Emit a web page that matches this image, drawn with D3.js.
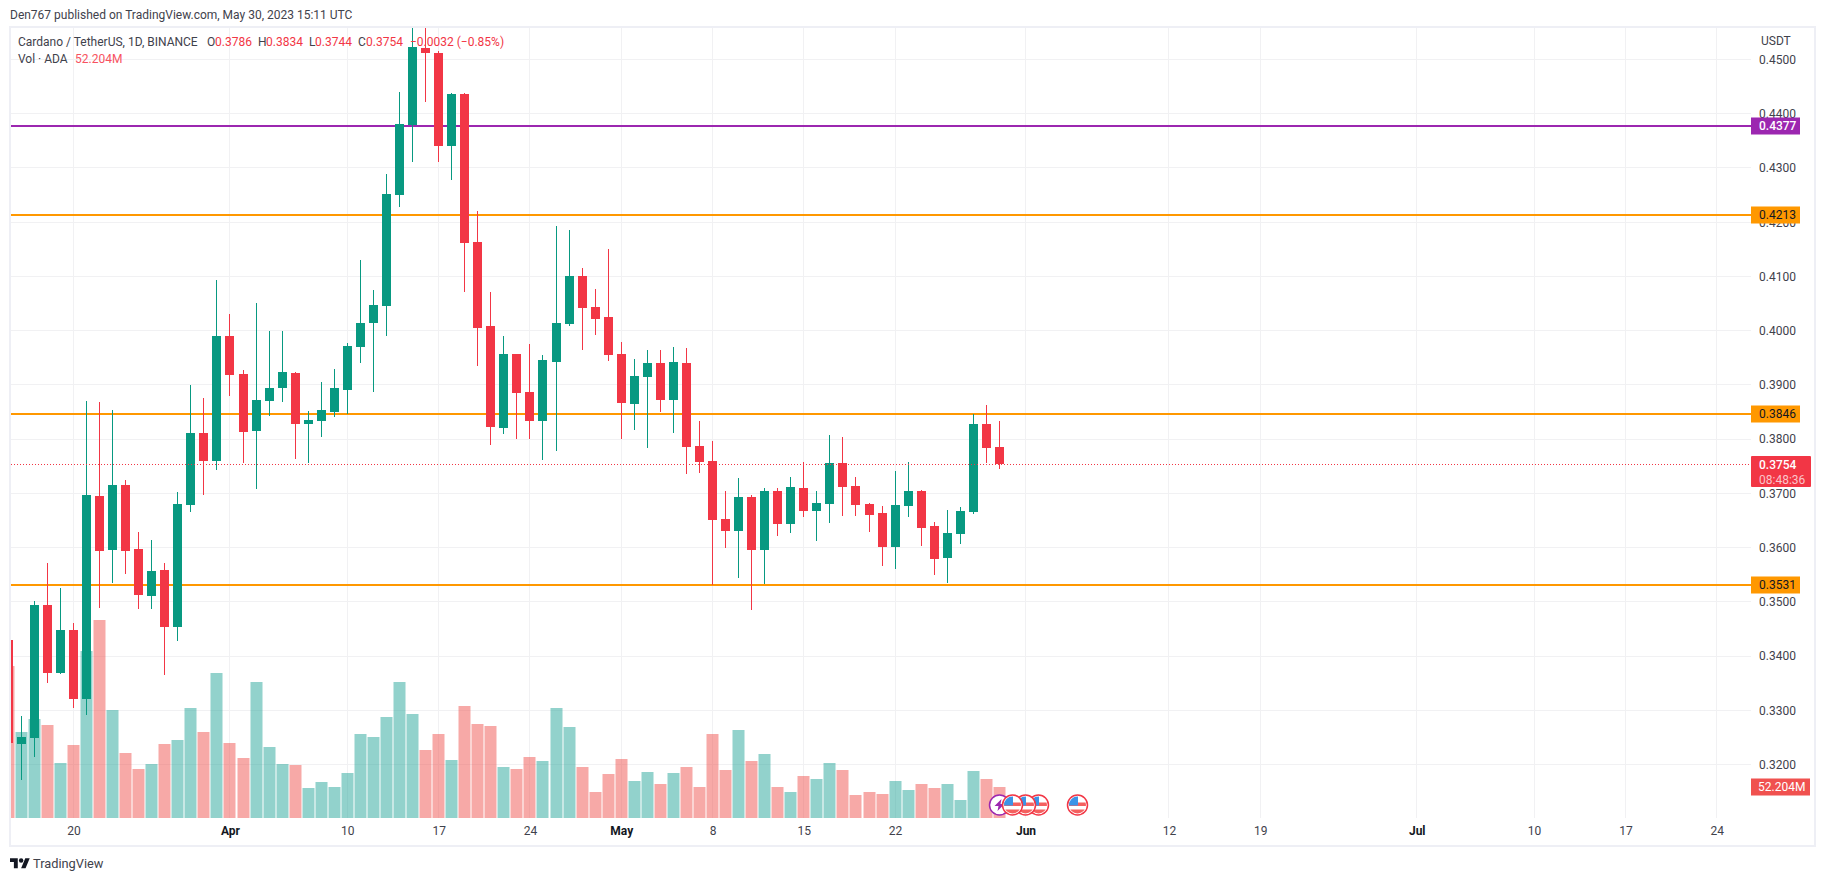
<!DOCTYPE html>
<html>

<head>
    <meta charset="utf-8">
    <title>ADA/USDT</title>
    <style>
        body { margin: 0; background: #fff; }
        text { font-family: Roboto, "Liberation Sans", sans-serif; }
    </style>
</head>

<body>
    <script src="https://cdn.jsdelivr.net/npm/d3@7/dist/d3.min.js"></script>
    <script>
    // daily candles, 15 Mar to 30 May 2023
    let days = d3.utcDay.range(new Date(Date.UTC(2023, 2, 15)), new Date(Date.UTC(2023, 4, 31)));

    let opens = [0.3430, 0.3238, 0.3248, 0.3494, 0.3369, 0.3448, 0.3320, 0.3695, 0.3596, 0.3716, 0.3597, 0.3511, 0.3559, 0.3454, 0.3679, 0.3811, 0.3760,
        0.3990, 0.3920, 0.3815, 0.3870, 0.3894, 0.3922, 0.3828, 0.3833, 0.3850, 0.3891, 0.3970, 0.4014, 0.4045, 0.4250, 0.4379, 0.4521, 0.4512, 0.4340, 0.4436, 0.4163, 0.4009, 0.3821, 0.3957, 0.3887, 0.3833, 0.3942, 0.4012, 0.4101, 0.4043, 0.4025,
        0.3957, 0.3865, 0.3915, 0.3940, 0.3872, 0.3940, 0.3788, 0.3760, 0.3653, 0.3631, 0.3693, 0.3596, 0.3705, 0.3644, 0.3710, 0.3668, 0.3681, 0.3756, 0.3714, 0.3681, 0.3664, 0.3601, 0.3677, 0.3705, 0.3640, 0.3581, 0.3625, 0.3666, 0.3828, 0.3786];
    let highs = [0.3440, 0.3290, 0.3502, 0.3572, 0.3526, 0.3461, 0.3870, 0.3869, 0.3854, 0.3725, 0.3629, 0.3614, 0.3572, 0.3703, 0.3900, 0.3876, 0.4093,
        0.4031, 0.3928, 0.4051, 0.3999, 0.3999, 0.3924, 0.3852, 0.3905, 0.3929, 0.3977, 0.4130, 0.4075, 0.4289, 0.4440, 0.4565, 0.4560, 0.4515, 0.4438, 0.4438, 0.4220, 0.4071, 0.3990, 0.3957, 0.3975, 0.3955, 0.4193, 0.4185, 0.4116, 0.4077, 0.4150,
        0.3979, 0.3948, 0.3964, 0.3964, 0.3970, 0.3968, 0.3833, 0.3797, 0.3705, 0.3728, 0.3697, 0.3710, 0.3710, 0.3730, 0.3758, 0.3705, 0.3808, 0.3804, 0.3730, 0.3682, 0.3677, 0.3741, 0.3758, 0.3706, 0.3647, 0.3670, 0.3675, 0.3846, 0.3863, 0.3834];
    let lows = [0.3220, 0.3172, 0.3213, 0.3351, 0.3367, 0.3305, 0.3292, 0.3489, 0.3534, 0.3552, 0.3487, 0.3487, 0.3365, 0.3428, 0.3665, 0.3697, 0.3743,
        0.3880, 0.3756, 0.3708, 0.3843, 0.3869, 0.3763, 0.3756, 0.3804, 0.3841, 0.3846, 0.3940, 0.3887, 0.3990, 0.4228, 0.4311, 0.4421, 0.4311, 0.4278, 0.4071, 0.3935, 0.3789, 0.3810, 0.3800, 0.3800, 0.3762, 0.3778, 0.4009, 0.3964, 0.3992, 0.3944,
        0.3800, 0.3817, 0.3784, 0.3850, 0.3811, 0.3736, 0.3738, 0.3531, 0.3600, 0.3544, 0.3485, 0.3533, 0.3622, 0.3627, 0.3657, 0.3612, 0.3646, 0.3658, 0.3658, 0.3629, 0.3566, 0.3561, 0.3657, 0.3603, 0.3550, 0.3535, 0.3607, 0.3662, 0.3756, 0.3744];
    let closes = [0.3240, 0.3250, 0.3494, 0.3369, 0.3448, 0.3320, 0.3697, 0.3594, 0.3716, 0.3594, 0.3513, 0.3557, 0.3454, 0.3681, 0.3811, 0.3760, 0.3990,
        0.3918, 0.3813, 0.3872, 0.3894, 0.3924, 0.3828, 0.3835, 0.3854, 0.3894, 0.3972, 0.4014, 0.4047, 0.4252, 0.4381, 0.4523, 0.4512, 0.4340, 0.4436, 0.4161, 0.4005, 0.3822, 0.3957, 0.3885, 0.3833, 0.3946, 0.4014, 0.4101, 0.4042, 0.4021, 0.3955,
        0.3867, 0.3916, 0.3940, 0.3872, 0.3942, 0.3786, 0.3758, 0.3651, 0.3631, 0.3693, 0.3596, 0.3705, 0.3644, 0.3712, 0.3668, 0.3682, 0.3756, 0.3712, 0.3679, 0.3660, 0.3601, 0.3679, 0.3705, 0.3636, 0.3579, 0.3627, 0.3668, 0.3828, 0.3784, 0.3754];
    // volume in millions of ADA
    let volumes = [256, 145, 167, 157, 93, 123, 281, 333, 182, 109, 83, 91, 125, 131, 185, 145, 244,
        126, 101, 229, 120, 91, 89, 51, 61, 52, 76, 141, 136, 170, 229, 175, 115, 141, 98, 189, 159, 155, 86, 82, 102, 96, 185, 153, 86, 43, 74,
        100, 63, 78, 57, 76, 86, 53, 141, 80, 149, 96, 108, 53, 43, 71, 65, 92, 80, 39, 43, 40, 62, 47, 57, 51, 57, 30, 79, 66, 52.204];

    let priceTicks = [0.45, 0.44, 0.43, 0.42, 0.41, 0.40, 0.39, 0.38, 0.37, 0.36, 0.35, 0.34, 0.33, 0.32];
    let timeTicks = ["2023-03-20", "2023-04-01", "2023-04-10", "2023-04-17", "2023-04-24", "2023-05-01", "2023-05-08", "2023-05-15", "2023-05-22",
        "2023-06-01", "2023-06-12", "2023-06-19", "2023-07-01", "2023-07-10", "2023-07-17", "2023-07-24"];
    let timeLabels = ["20", "Apr", "10", "17", "24", "May", "8", "15", "22", "Jun", "12", "19", "Jul", "10", "17", "24"];
    let monthLabels = ["Apr", "May", "Jun", "Jul"];

    let levelPrices = [0.4377, 0.4213, 0.3846, 0.3531];
    let levelColors = ["#9c27b0", "#ff9800", "#ff9800", "#ff9800"];
    let levelTextColors = ["#fff", "#131722", "#131722", "#131722"];

    let lastPrice = 0.3754;
    let lastVolume = "52.204M";
    let countdown = "08:48:36";

    // lightning is the first one, the others are the US flags
    let lightningDay = "2023-05-30";
    let flagDays = ["2023-06-05", "2023-06-02", "2023-06-01", "2023-05-31"];

    let up = "#089981", down = "#f23645";

    let width = 1825, height = 881;
    let pane = { left: 11, right: 1751, top: 28, bottom: 818 };

    let svg = d3.select('body').append('svg').attr('width', width).attr('height', height).style('display', 'block');

    let xScale = d3.scaleUtc()
        .domain([new Date("2023-03-20"), new Date("2023-06-01")])
        .range([73.5, 1025.5]);
    let yScale = d3.scaleLinear()
        .domain([0.32, 0.45])
        .range([764.5, 59.5]);
    let volScale = d3.scaleLinear()
        .domain([0, 52.204])
        .range([pane.bottom, 787]);

    // snap to the pixel grid so lines stay sharp
    let cx = d => Math.floor(xScale(d)) + 0.5;
    let isUp = i => closes[i] >= opens[i];

    svg.append("clipPath").attr("id", "pane").append("rect")
        .attr("x", pane.left).attr("y", pane.top)
        .attr("width", pane.right - pane.left).attr("height", pane.bottom - pane.top);

    // frame
    svg.append("rect")
        .attr("x", 10).attr("y", 27).attr("width", 1805).attr("height", 819)
        .attr("fill", "none").attr("stroke", "#eeeff5").attr("stroke-width", 2);

    // grid
    let grid = svg.append("g").attr("stroke", "#f1f1f3").attr("shape-rendering", "crispEdges");
    grid.selectAll(".h").data(priceTicks).enter().append("line")
        .attr("x1", pane.left).attr("x2", pane.right)
        .attr("y1", d => Math.floor(yScale(d)) + 0.5).attr("y2", d => Math.floor(yScale(d)) + 0.5);
    grid.selectAll(".v").data(timeTicks).enter().append("line")
        .attr("x1", d => cx(new Date(d))).attr("x2", d => cx(new Date(d)))
        .attr("y1", pane.top).attr("y2", pane.bottom);

    let chart = svg.append("g").attr("clip-path", "url(#pane)");

    // volume
    chart.selectAll(".vol").data(volumes).enter().append("rect")
        .attr("class", "vol")
        .attr("x", (d, i) => cx(days[i]) - 6)
        .attr("width", 12)
        .attr("y", d => Math.round(volScale(d)))
        .attr("height", d => pane.bottom - Math.round(volScale(d)))
        .attr("fill", (d, i) => isUp(i) ? "#26a69a" : "#ef5350")
        .attr("fill-opacity", 0.5);

    // horizontal levels
    chart.selectAll(".level").data(levelPrices).enter().append("line")
        .attr("class", "level")
        .attr("x1", pane.left).attr("x2", pane.right)
        .attr("y1", d => Math.round(yScale(d))).attr("y2", d => Math.round(yScale(d)))
        .attr("stroke", (d, i) => levelColors[i])
        .attr("stroke-width", 2);

    // candles
    chart.selectAll(".wick").data(days).enter().append("rect")
        .attr("class", "wick")
        .attr("x", d => cx(d) - 0.5)
        .attr("width", 1)
        .attr("y", (d, i) => Math.round(yScale(highs[i])))
        .attr("height", (d, i) => Math.round(yScale(lows[i])) - Math.round(yScale(highs[i])))
        .attr("fill", (d, i) => isUp(i) ? up : down);
    chart.selectAll(".body").data(days).enter().append("rect")
        .attr("class", "body")
        .attr("x", d => cx(d) - 4.5)
        .attr("width", 9)
        .attr("y", (d, i) => Math.round(yScale(Math.max(opens[i], closes[i]))))
        .attr("height", (d, i) => Math.round(yScale(Math.min(opens[i], closes[i]))) - Math.round(yScale(Math.max(opens[i], closes[i]))))
        .attr("fill", (d, i) => isUp(i) ? up : down);

    // last price line
    chart.append("line")
        .attr("x1", pane.left).attr("x2", pane.right)
        .attr("y1", Math.round(yScale(lastPrice)) + 0.5).attr("y2", Math.round(yScale(lastPrice)) + 0.5)
        .attr("stroke", down).attr("stroke-dasharray", "1 2");

    // event icons under the candles
    let iconY = 805;
    svg.append("clipPath").attr("id", "flag").append("circle").attr("r", 8.5);
    let lightning = svg.append("g").attr("transform", "translate(" + cx(new Date(lightningDay)) + "," + iconY + ")");
    lightning.append("circle").attr("r", 10).attr("fill", "#fff").attr("stroke", "#9c27b0").attr("stroke-width", 1.5);
    lightning.append("path").attr("d", "M2,-6 L-5,1 L-1,1 L-2,6 L5,-1 L1,-1 Z").attr("fill", "#9c27b0");

    let flags = svg.selectAll(".flag").data(flagDays).enter().append("g")
        .attr("class", "flag")
        .attr("transform", d => "translate(" + cx(new Date(d)) + "," + iconY + ")");
    flags.append("circle").attr("r", 10).attr("fill", "#fff").attr("stroke", down).attr("stroke-width", 1.5);
    let stripes = flags.append("g").attr("clip-path", "url(#flag)");
    stripes.append("rect").attr("x", -10).attr("y", -2.5).attr("width", 20).attr("height", 3.5).attr("fill", "#f4605f");
    stripes.append("rect").attr("x", -10).attr("y", 4.5).attr("width", 20).attr("height", 5).attr("fill", "#f4605f");
    stripes.append("rect").attr("x", -9).attr("y", -9).attr("width", 9.5).attr("height", 9.5).attr("fill", "#3c93e6");

    // price axis
    let yAxis = d3.axisRight(yScale)
        .tickValues(priceTicks)
        .tickSize(0)
        .tickPadding(8)
        .tickFormat(d3.format(".4f"));
    let yG = svg.append("g")
        .attr("transform", "translate(" + pane.right + ",0)")
        .call(yAxis);
    yG.select(".domain").remove();
    yG.selectAll("text").attr("font-size", 12).attr("fill", "#3f424c").attr("font-family", "Roboto");

    svg.append("text").attr("x", 1761).attr("y", 45).attr("font-size", 12).attr("fill", "#3f424c").text("USDT");

    // price labels on the axis
    let levelLabels = svg.selectAll(".lab").data(levelPrices).enter().append("g")
        .attr("class", "lab")
        .attr("transform", d => "translate(" + pane.right + "," + Math.round(yScale(d)) + ")");
    levelLabels.append("rect")
        .attr("y", -8.5).attr("width", 49).attr("height", 17)
        .attr("fill", (d, i) => levelColors[i]);
    levelLabels.append("text")
        .attr("x", 8).attr("dy", "0.36em")
        .attr("font-size", 12)
        .attr("font-weight", (d, i) => i == 0 ? 500 : 400)
        .attr("fill", (d, i) => levelTextColors[i])
        .text(d3.format(".4f"));

    let lastLabel = svg.append("g").attr("transform", "translate(" + pane.right + "," + Math.round(yScale(lastPrice)) + ")");
    lastLabel.append("rect").attr("y", -8).attr("width", 60).attr("height", 31).attr("rx", 1).attr("fill", down);
    lastLabel.append("text").attr("x", 8).attr("y", 4.5).attr("font-size", 12).attr("font-weight", 500).attr("fill", "#fff").text(d3.format(".4f")(lastPrice));
    lastLabel.append("text").attr("x", 8).attr("y", 19.5).attr("font-size", 12).attr("fill", "#fbc4ca").text(countdown);

    let volLabel = svg.append("g").attr("transform", "translate(" + pane.right + "," + 787 + ")");
    volLabel.append("rect").attr("y", -8.5).attr("width", 59).attr("height", 17).attr("fill", "#f0514f");
    volLabel.append("text").attr("x", 7).attr("dy", "0.36em").attr("font-size", 12).attr("fill", "#fff").text(lastVolume);

    // time axis
    let xAxis = d3.axisBottom(xScale)
        .tickValues(timeTicks.map(d => new Date(d)))
        .tickSize(0)
        .tickPadding(8)
        .tickFormat((d, i) => timeLabels[i]);
    let xG = svg.append("g")
        .attr("transform", "translate(0," + pane.bottom + ")")
        .call(xAxis);
    xG.select(".domain").remove();
    xG.selectAll("text")
        .attr("font-size", 12).attr("font-family", "Roboto")
        .attr("fill", (d, i) => monthLabels.includes(timeLabels[i]) ? "#131722" : "#3f424c")
        .attr("font-weight", (d, i) => monthLabels.includes(timeLabels[i]) ? 700 : 400);

    // header and legend
    svg.append("text").attr("x", 10).attr("y", 19).attr("font-size", 12).attr("fill", "#3f424c")
        .text("Den767 published on TradingView.com, May 30, 2023 15:11 UTC");

    let legendRows = [
        ["Cardano / TetherUS, 1D, BINANCE", 18, 46, "#3f424c"],
        ["O", 207, 46, "#3f424c"], ["0.3786", 215, 46, down],
        ["H", 258, 46, "#3f424c"], ["0.3834", 266, 46, down],
        ["L", 309, 46, "#3f424c"], ["0.3744", 315, 46, down],
        ["C", 358, 46, "#3f424c"], ["0.3754", 366, 46, down],
        ["\u22120.0032 (\u22120.85%)", 410, 46, down],
        ["Vol \u00b7 ADA", 18, 63, "#3f424c"], ["52.204M", 75, 63, "#f7525f"]
    ];
    svg.selectAll(".legend").data(legendRows).enter().append("text")
        .attr("class", "legend")
        .attr("x", d => d[1]).attr("y", d => d[2])
        .attr("font-size", 12).attr("fill", d => d[3])
        .text(d => d[0]);

    // TradingView mark
    let logo = svg.append("g").attr("transform", "translate(10,856) scale(0.5556)").attr("fill", "#131722");
    logo.append("path").attr("d", "M14 22H7V11H0V4h14v18zM28 22h-8l7.5-18h8L28 22z");
    logo.append("circle").attr("cx", 20).attr("cy", 8).attr("r", 4);
    svg.append("text").attr("x", 33).attr("y", 868).attr("font-size", 12.8).attr("fill", "#3f424c").text("TradingView");
    </script>
</body>

</html>
